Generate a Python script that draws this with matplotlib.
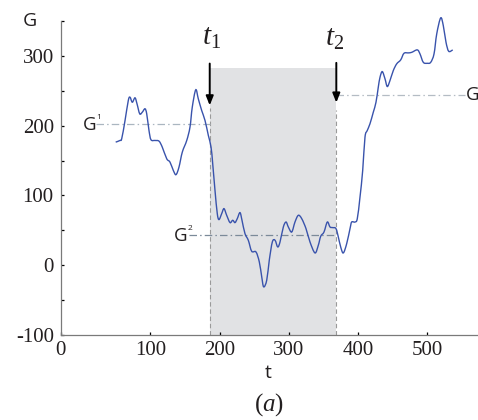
import matplotlib
matplotlib.use("Agg")
import matplotlib.pyplot as plt
from matplotlib.path import Path
from matplotlib.patches import PathPatch
import numpy as np

# ---- data ----
t_vals = [50.0, 56.2, 58.7, 63.5, 68.2, 70.7, 74.0, 77.9, 80.8, 84.7, 88.4, 92.3, 94.8, 98.1,
          101.0, 106.8, 112.6, 117.3, 123.7, 128.4, 133.2, 137.1, 141.4, 146.2, 152.6, 157.3,
          160.6, 165.6, 169.3, 174.2, 179.0, 183.8, 187.7, 190.1, 193.4, 196.7, 199.2, 203.1,
          206.4, 210.3, 215.1, 219.0, 222.3, 225.6, 229.5, 232.4, 236.7, 241.5, 246.4, 252.6,
          257.4, 260.9, 263.7, 268.1, 271.8, 276.2, 280.1, 284.0, 287.3, 292.1, 296.0, 299.3,
          304.2, 308.9, 313.7, 318.6, 324.8, 330.6, 337.8, 342.6, 346.1, 350.8, 355.6, 359.5,
          363.4, 368.1, 371.5, 374.9, 378.7, 383.6, 388.4, 390.8, 395.6, 398.9, 402.8, 406.7,
          410.0, 413.3, 417.2, 422.0, 425.9, 429.2, 431.7, 435.0, 438.9, 442.2, 446.1, 450.9,
          455.8, 461.6, 466.3, 472.6, 477.5, 485.5, 489.4, 494.2, 500.0, 504.9, 509.7, 513.6,
          519.3, 523.1, 527.0, 530.9, 536.7]
g_vals = [176.4, 178.8, 181.3, 207.4, 236.0, 240.8, 233.6, 239.9, 231.3, 217.0, 219.3, 224.2,
          217.0, 193.1, 179.8, 178.8, 177.8, 169.2, 152.6, 147.8, 135.9, 129.8, 140.6, 162.1,
          178.8, 197.9, 226.5, 251.4, 238.5, 221.7, 207.4, 186.0, 169.2, 145.5, 107.3, 74.0,
          65.4, 74.0, 81.1, 71.5, 61.1, 64.4, 61.1, 66.8, 75.4, 64.4, 45.3, 35.8, 20.0, 19.0,
          4.7, -16.7, -31.0, -21.5, 7.2, 33.3, 35.8, 26.2, 33.3, 54.8, 61.9, 54.8, 47.6, 61.9,
          71.5, 66.8, 52.5, 33.3, 17.6, 28.6, 41.5, 47.6, 61.9, 54.8, 53.9, 52.5, 40.5, 26.2,
          17.6, 31.0, 52.5, 61.9, 61.9, 66.8, 97.7, 135.9, 183.5, 193.1, 202.7, 219.3, 233.6,
          255.1, 269.4, 277.5, 267.1, 256.1, 264.7, 279.0, 288.6, 294.3, 303.7, 304.3, 305.1,
          308.6, 302.9, 290.8, 289.4, 290.8, 302.9, 331.5, 354.4, 343.3, 319.5, 306.6, 308.6]

t1 = 185.8
t2 = 368.6
shade_top = 282
g_levels = [202, 43, 244.6]          # G1, G2, G3
g_level_starts = [21.2, 156.3, t2]
g_level_ends = [t1, t2, 554.4]

x_ticks = [-29.4, 100, 200, 300, 400, 500]
x_tick_labels = ["0", "100", "200", "300", "400", "500"]
y_ticks = [-100, 0, 100, 200, 300]
y_tick_labels = ["-100", "0", "100", "200", "300"]
y_minor = [-50, 50, 150, 250, 350]

# ---- style ----
plt.rcParams['mathtext.fontset'] = 'custom'
plt.rcParams['mathtext.rm'] = 'Liberation Serif'
plt.rcParams['mathtext.it'] = 'Liberation Serif:italic'

serif = 'Liberation Serif'
sans = 'Open Sans'
ink = '#231f20'
axis_col = '#7a7a7a'

fig = plt.figure(figsize=(4.78, 4.20), dpi=100)
ax = fig.add_axes([60.7/478, 1 - 335/420, (478 - 60.7)/478, (335 - 21)/420])
ax.set_xlim(-29.4, 573.2)
ax.set_ylim(-100, 350)

# shaded interval
ax.fill_between([t1, t2], -100, shade_top, color='#e1e2e4', lw=0, zorder=0)

# vertical dashed lines
ax.plot([t1, t1], [-100, 226], color='#9a9a9a', lw=0.8, ls=(0, (4, 2.5)), zorder=1)
ax.plot([t2, t2], [-100, 222], color='#9a9a9a', lw=0.8, ls=(0, (4, 2.5)), zorder=1)

# reference levels (dash-dot)
level_cols = ['#aab6c0', '#7b8a99', '#b4bcc4']
for lv, s, e, c in zip(g_levels, g_level_starts, g_level_ends, level_cols):
    ax.plot([s, e], [lv, lv], color=c, lw=0.9, ls=(0, (6, 2.5, 1.2, 2.5)), zorder=1)

# smooth curve through the read points (Catmull-Rom rendered as cubic Bezier path)
P = np.column_stack([t_vals, g_vals])
n = len(P)
verts = [tuple(P[0])]
codes = [Path.MOVETO]
for i in range(n - 1):
    p0 = P[i - 1] if i > 0 else P[i]
    p1 = P[i]
    p2 = P[i + 1]
    p3 = P[i + 2] if i + 2 < n else P[i + 1]
    c1 = p1 + (p2 - p0) / 6.0
    c2 = p2 - (p3 - p1) / 6.0
    verts += [tuple(c1), tuple(c2), tuple(p2)]
    codes += [Path.CURVE4] * 3
ax.add_patch(PathPatch(Path(verts, codes), fill=False, edgecolor='#3953ac', lw=1.0,
                       zorder=3, clip_on=False))

# arrows
for tt, ytop, ytip in [(t1, 289, 229), (t2, 290, 233)]:
    ax.annotate('', xy=(tt, ytip), xytext=(tt, ytop),
                arrowprops=dict(arrowstyle='-|>,head_length=0.55,head_width=0.22',
                                color='black', lw=1.4, shrinkA=0, shrinkB=0), zorder=4)

ax.text(188.4, 327, r'$t_1$', fontsize=21, ha='center', va='center', color=ink)
ax.text(366, 325, r'$t_2$', fontsize=21, ha='center', va='center', color=ink)

# G labels
ax.text(13, 201, 'G', fontsize=13.5, family=sans, ha='center', va='center', color=ink)
ax.text(26, 211, '1', fontsize=6, family=sans, ha='center', va='center', color=ink)
ax.text(144, 42, 'G', fontsize=13.5, family=sans, ha='center', va='center', color=ink)
ax.text(157, 52, '2', fontsize=6, family=sans, ha='center', va='center', color=ink)
ax.text(555, 244.6, 'G', fontsize=13.5, family=sans, ha='left', va='center', color=ink, clip_on=False)

# axes styling
for side in ['top', 'right']:
    ax.spines[side].set_visible(False)
for side in ['left', 'bottom']:
    ax.spines[side].set_color(axis_col)
    ax.spines[side].set_linewidth(0.9)

ax.set_xticks(x_ticks)
ax.set_xticklabels(x_tick_labels)
ax.set_yticks(y_ticks)
ax.set_yticklabels(y_tick_labels)
ax.set_yticks(y_minor, minor=True)
ax.tick_params(axis='both', which='both', direction='in', length=2.5, width=0.9,
               color='black', labelcolor=ink)
ax.tick_params(axis='y', pad=5)
ax.tick_params(axis='x', pad=4)
for lab in ax.get_xticklabels() + ax.get_yticklabels():
    lab.set_family(serif)
    lab.set_fontsize(15)

fig.text(29.7/478, 1 - 21/420, 'G', fontsize=14, family=sans, ha='center', va='center', color=ink)
fig.text(268.5/478, 1 - 373.5/420, 't', fontsize=14, family=sans, ha='center', va='center', color=ink)
fig.text(269/478, 1 - 405/420, r'$(a)$', fontsize=18, ha='center', va='center', color=ink)

fig.savefig('out.png', dpi=100)
